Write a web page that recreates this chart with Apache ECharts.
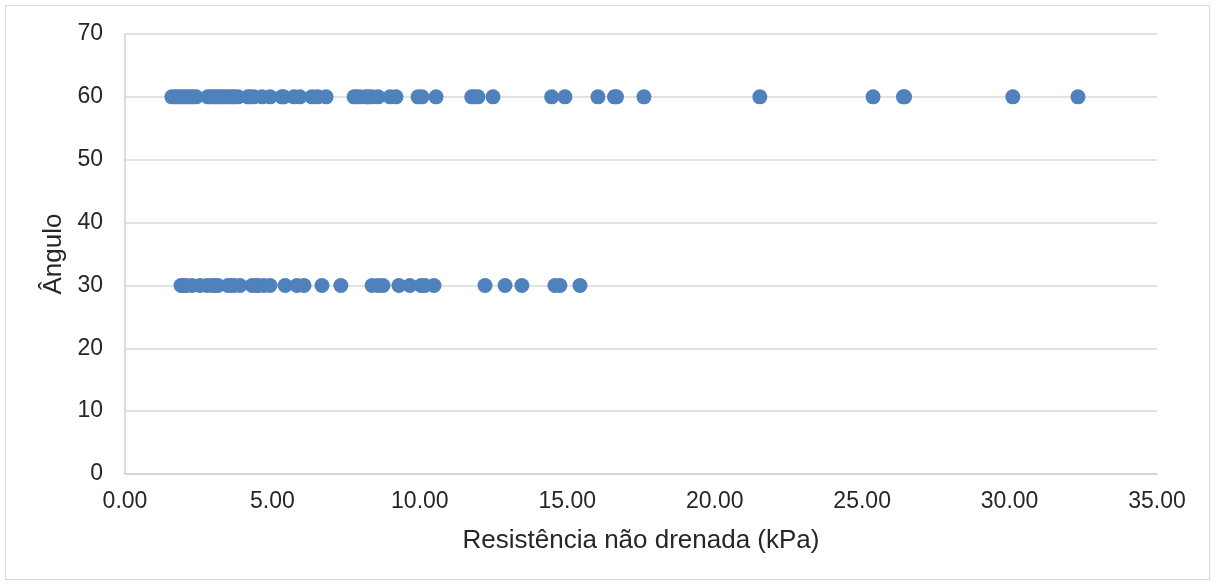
<!DOCTYPE html>
<html>
<head>
<meta charset="utf-8">
<script src="https://cdn.jsdelivr.net/npm/echarts@6/dist/echarts.min.js"></script>
<style>
html,body{margin:0;padding:0;background:#fff;}
#frame{position:absolute;left:5px;top:5px;width:1203px;height:573px;border:1.5px solid #d9d9d9;}
#chart{position:absolute;left:0;top:0;width:1215px;height:584px;}
</style>
</head>
<body>
<div id="frame"></div>
<div id="chart"></div>
<script>
// Resistência não drenada (kPa) for angle 60
const x60 = [1.59,1.7,1.80,1.9,2.0,2.1,2.2,2.3,2.41,
  2.81,2.9,3.02,3.1,3.22,3.3,3.42,3.5,3.63,3.7,3.83,
  4.17,4.25,4.37,4.65,4.92,5.32,5.38,
  5.73,5.93,6.34,6.54,6.82,
  7.77,7.85,7.97,8.17,8.25,8.38,8.58,
  8.99,9.19,9.94,10.07,10.55,
  11.76,11.85,11.97,12.48,14.47,14.92,16.04,16.60,16.67,17.6,
  21.53,25.37,26.40,26.44,30.11,32.32];
// Resistência não drenada (kPa) for angle 30
const x30 = [1.90,2.0,2.07,2.27,2.54,2.78,2.95,3.05,3.15,3.49,3.6,3.70,3.90,
  4.31,4.45,4.51,4.71,4.92,5.43,5.83,6.07,6.68,7.32,
  8.38,8.58,8.75,9.29,9.66,10.04,10.17,10.48,
  12.21,12.89,13.46,14.58,14.75,15.43];
const angles = [60, 30];
const xTicks = [0,5,10,15,20,25,30,35];
const yTicks = [0,10,20,30,40,50,60,70];

const data = x60.map(v => [v, angles[0]]).concat(x30.map(v => [v, angles[1]]));

const chart = echarts.init(document.getElementById('chart'));
const font = 'Liberation Sans, Arial, sans-serif';
const txt = '#262626';
chart.setOption({
  animation:false,
  backgroundColor:'transparent',
  grid:{left:125,right:58,top:34,bottom:110,containLabel:false},
  xAxis:{
    type:'value',min:xTicks[0],max:xTicks[xTicks.length-1],interval:5,
    name:'Resistência não drenada (kPa)',nameLocation:'middle',nameGap:54,
    nameTextStyle:{fontFamily:font,fontSize:26,color:txt},
    axisLine:{show:true,lineStyle:{color:'#d0d0d0',width:1.5}},
    axisTick:{show:false},
    splitLine:{show:false},
    axisLabel:{fontFamily:font,fontSize:23,color:txt,margin:16,formatter:v=>v.toFixed(2)}
  },
  yAxis:{
    type:'value',min:yTicks[0],max:yTicks[yTicks.length-1],interval:10,
    name:'Ângulo',nameLocation:'middle',nameGap:56,nameRotate:90,
    nameTextStyle:{fontFamily:font,fontSize:26,color:txt},
    axisLine:{show:true,lineStyle:{color:'#d0d0d0',width:1.5}},
    axisTick:{show:false},
    splitLine:{show:true,lineStyle:{color:'#d9d9d9',width:1.5}},
    axisLabel:{fontFamily:font,fontSize:23,color:txt,margin:22}
  },
  series:[{
    type:'scatter',
    data:data,
    symbolSize:15,
    itemStyle:{color:'#4f81bd',opacity:1}
  }]
});
</script>
</body>
</html>
